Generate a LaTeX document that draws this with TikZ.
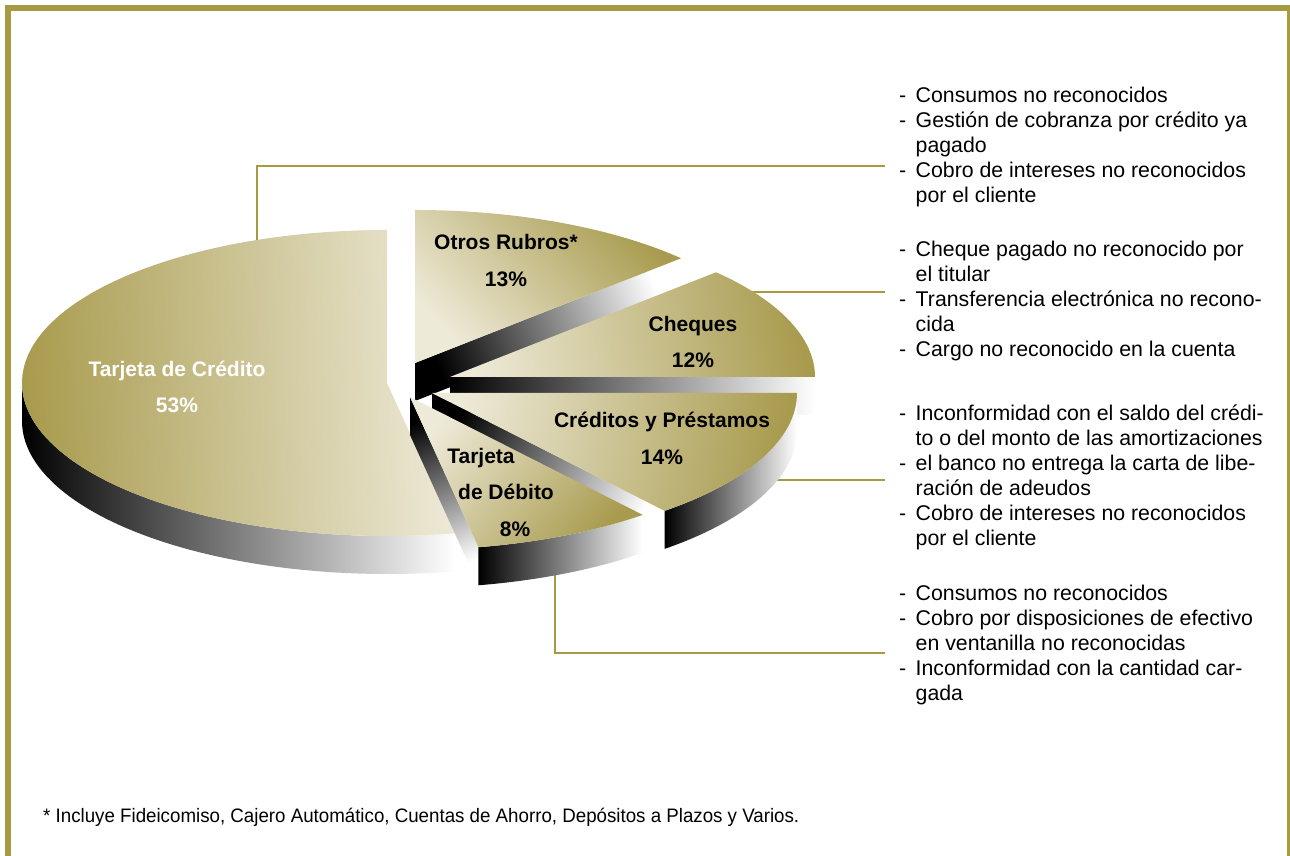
\documentclass[tikz,border=0pt]{standalone}
\usepackage{fontspec}
\setmainfont{Liberation Sans}
\newfontfamily\notefont[FakeStretch=0.96]{Liberation Sans}
\usetikzlibrary{calc}
\definecolor{framegold}{RGB}{168,154,66}
\definecolor{pieolive}{RGB}{168,155,78}
\definecolor{piecream}{RGB}{238,234,216}
\newcommand\pietop[4]{\shade[pface=#4] (#1) -- ++(#2:365pt and 153pt) arc[start angle=#2, end angle=#3, x radius=365pt, y radius=153pt] -- cycle;}
\newcommand\pierim[3]{\shade[prim] ($(#1)+(#2:365pt and 153pt)$) arc[start angle=#2, end angle=#3, x radius=365pt, y radius=153pt] -- ++(0,-38) arc[start angle=#3, end angle=#2, x radius=365pt, y radius=153pt] -- cycle;}
\newcommand\pieside[3]{\shade[pside=#3] (#1) -- ($(#1)+(#2:365pt and 153pt)$) -- ($(#1)+(#2:365pt and 153pt)+(0,-38)$) -- ($(#1)+(0,-38)$) -- cycle;}
\newcommand\itm[1]{\makebox[16.5pt][l]{-}#1}
\newcommand\cnt[1]{\hspace*{16.5pt}#1}
\begin{document}
\begin{tikzpicture}[x=1pt,y=1pt,
  frameline/.style={draw=framegold, line width=6pt, line join=miter},
  conn/.style={draw=framegold, line width=2pt},
  prim/.style={left color=black, right color=white},
  pface/.style={top color=pieolive, bottom color=piecream, shading angle=#1},
  pside/.style={top color=white, bottom color=black, shading angle=#1},
  lbl/.style={font=\fontsize{21}{25}\selectfont\bfseries, inner sep=0pt, anchor=base},
  txt/.style={font=\fontsize{21.3}{25}\selectfont, inner sep=0pt, anchor=base west},
  note/.style={font=\notefont\fontsize{19.5}{23}\selectfont, inner sep=0pt, anchor=base west},
]
\useasboundingbox (0,0) rectangle (1290,856);
\fill[white] (0,0) rectangle (1290,856);
% frame
\draw[frameline] (8,-10) -- (8,848) -- (1290,848) -- (1290,-10);

% slice centres
\coordinate (cT) at (387,473);
\coordinate (cO) at (415,493);
\coordinate (cCh) at (450,479);
\coordinate (cCr) at (432,463);
\coordinate (cD) at (410,459);

% connectors
\coordinate (k1a) at (257,600);
\coordinate (k1b) at (257,690);
\coordinate (k1c) at (885,690);
\coordinate (k2a) at (740,564);
\coordinate (k2b) at (885,564);
\coordinate (k3a) at (760,376);
\coordinate (k3b) at (885,376);
\coordinate (k4a) at (555,300);
\coordinate (k4b) at (555,203);
\coordinate (k4c) at (885,203);
\draw[conn] (k1a) -- (k1b) -- (k1c);
\draw[conn] (k2a) -- (k2b);
\draw[conn] (k3a) -- (k3b);
\draw[conn] (k4a) -- (k4b) -- (k4c);

% Otros Rubros
\pieside{cO}{43.2}{-68.5}
\pietop{cO}{43.2}{90}{-45.9}
% Cheques
\pieside{cCh}{0}{-90}
\pietop{cCh}{0}{43.2}{-80.6}
% Creditos
\pieside{cCr}{309.6}{-116.9}
\pierim{cCr}{309.6}{360}
\pietop{cCr}{309.6}{360}{-101.2}
% Tarjeta de Credito
\pierim{cT}{180}{280.8}
\pietop{cT}{90}{280.8}{92.3}
% Tarjeta de Debito
\pieside{cD}{280.8}{-155.5}
\pierim{cD}{280.8}{309.6}
\pietop{cD}{280.8}{309.6}{-131.7}

% slice labels
\node[lbl, text=white] (lT1) at (177,479) {Tarjeta de Crédito};
\node[lbl, text=white] (lT2) at (177,443) {53\%};
\node[lbl] (lO1) at (506,606) {Otros Rubros*};
\node[lbl] (lO2) at (506,569) {13\%};
\node[lbl] (lCh1) at (693,524) {Cheques};
\node[lbl] (lCh2) at (693,488) {12\%};
\node[lbl] (lCr1) at (662,428) {Créditos y Préstamos};
\node[lbl] (lCr2) at (662,391) {14\%};
\node[lbl] (lD1) at (481,392) {Tarjeta};
\node[lbl] (lD2) at (506,356) {de Débito};
\node[lbl] (lD3) at (515,319) {8\%};

% text blocks
\node[txt] (b1) at (899,753.3) {\begin{tabular}[t]{@{}l@{}}
\itm{Consumos no reconocidos}\\
\itm{Gestión de cobranza por crédito ya}\\
\cnt{pagado}\\
\itm{Cobro de intereses no reconocidos}\\
\cnt{por el cliente}
\end{tabular}};
\node[txt] (b2) at (899,599.3) {\begin{tabular}[t]{@{}l@{}}
\itm{Cheque pagado no reconocido por}\\
\cnt{el titular}\\
\itm{Transferencia electrónica no recono-}\\
\cnt{cida}\\
\itm{Cargo no reconocido en la cuenta}
\end{tabular}};
\node[txt] (b3) at (899,435.3) {\begin{tabular}[t]{@{}l@{}}
\itm{Inconformidad con el saldo del crédi-}\\
\cnt{to o del monto de las amortizaciones}\\
\itm{el banco no entrega la carta de libe-}\\
\cnt{ración de adeudos}\\
\itm{Cobro de intereses no reconocidos}\\
\cnt{por el cliente}
\end{tabular}};
\node[txt] (b4) at (899,255.3) {\begin{tabular}[t]{@{}l@{}}
\itm{Consumos no reconocidos}\\
\itm{Cobro por disposiciones de efectivo}\\
\cnt{en ventanilla no reconocidas}\\
\itm{Inconformidad con la cantidad car-}\\
\cnt{gada}
\end{tabular}};

% footnote
\node[note] (fn) at (43,33) {* Incluye Fideicomiso, Cajero Automático, Cuentas de Ahorro, Depósitos a Plazos y Varios.};
\end{tikzpicture}
\end{document}
